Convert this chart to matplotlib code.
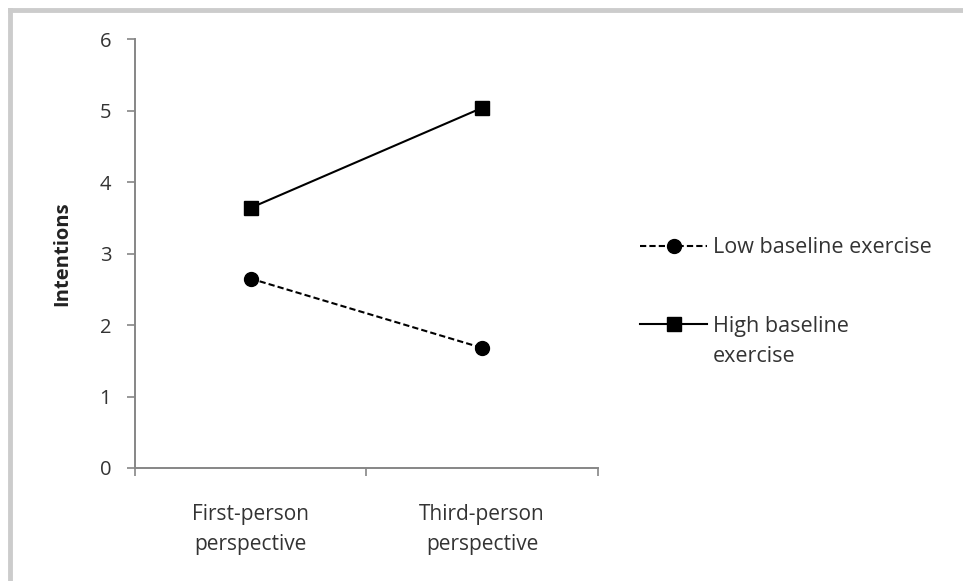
import matplotlib.pyplot as plt
from matplotlib.lines import Line2D

plt.rcParams['font.family'] = ['Open Sans', 'DejaVu Sans']

categories = ["First-person\nperspective", "Third-person\nperspective"]
low_baseline = [2.65, 1.68]
high_baseline = [3.64, 5.04]

fig = plt.figure(figsize=(9.63, 5.81), dpi=100)
ax = fig.add_axes([0.140, 0.1945, 0.481, 0.738])

x = [0.5, 1.5]
ax.plot(x, low_baseline, color="black", linestyle=(0, (3, 1.5)), linewidth=1.5,
        marker="o", markersize=10, label="Low baseline exercise")
ax.plot(x, high_baseline, color="black", linestyle="-", linewidth=1.5,
        marker="s", markersize=10, label="High baseline")

ax.set_xlim(0, 2)
ax.set_ylim(0, 6)
ax.set_yticks(range(0, 7))
ax.set_xticks([0, 1, 2])
ax.set_xticklabels([])
ax.set_xticks(x, minor=True)
ax.set_xticklabels(categories, minor=True, linespacing=1.55)
ax.tick_params(axis="x", which="minor", length=0, pad=26, labelsize=15, colors="#333333")
ax.tick_params(axis="x", which="major", length=6, color="#868686", width=1.2)
ax.tick_params(axis="y", length=6, color="#868686", width=1.2, labelsize=14.5,
               labelcolor="#333333", pad=11)

for side in ["top", "right"]:
    ax.spines[side].set_visible(False)
for side in ["left", "bottom"]:
    ax.spines[side].set_color("#868686")
    ax.spines[side].set_linewidth(1.4)

ax.set_ylabel("Intentions", fontsize=14.5, fontweight="bold", color="#222222", labelpad=20)

ax.legend(loc="center left", bbox_to_anchor=(1.091, 0.422), frameon=False,
          fontsize=15.5, handlelength=3.1, labelspacing=2.68, handletextpad=0.3,
          borderpad=0, borderaxespad=0, labelcolor="#333333")
fig.text(713 / 963, 1 - 357 / 581, "exercise", fontsize=15.5, color="#333333",
         ha="left", va="center")

# light grey frame along top and left edges
fig.add_artist(Line2D([0.0105, 1.0], [0.983, 0.983], transform=fig.transFigure,
                      color="#cccccc", linewidth=3.5))
fig.add_artist(Line2D([0.0105, 0.0105], [0.0, 0.983], transform=fig.transFigure,
                      color="#cccccc", linewidth=3.5))

fig.savefig("out.png", dpi=100)
